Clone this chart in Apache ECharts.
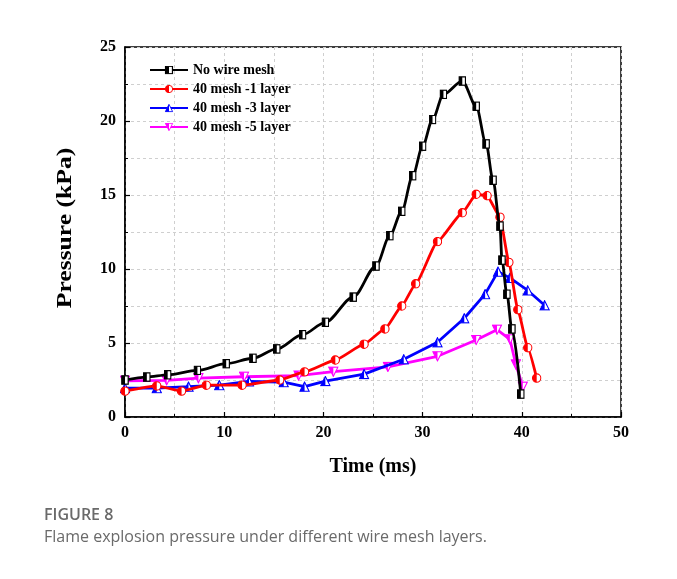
<!DOCTYPE html>
<html lang="en">
  <head>
    <meta charset="UTF-8" />
    <script src="https://cdn.jsdelivr.net/npm/echarts@6/dist/echarts.min.js"></script>
    <title>Figure 8</title>
    <style>
      html, body { margin: 0; padding: 0; background: #fff; }
      #app { width: 677px; height: 579px; }
    </style>
  </head>
  <body>
    <div id="app"></div>

    <script>
      // time (ms), pressure (kPa)
      const noMesh = [
        [0, 2.5], [2.2, 2.7], [4.3, 2.85], [7.3, 3.15], [10.2, 3.6], [12.9, 3.97],
        [15.3, 4.6], [17.9, 5.56], [20.2, 6.4], [23.0, 8.1], [25.3, 10.2], [26.7, 12.25],
        [27.9, 13.9], [29.0, 16.3], [30.0, 18.3], [31.0, 20.1], [32.1, 21.8], [34.0, 22.7],
        [35.4, 21.0], [36.4, 18.45], [37.1, 16.0], [37.8, 12.9], [38.0, 10.6], [38.5, 8.3],
        [39.0, 5.95], [39.9, 1.55],
      ];
      const mesh1 = [
        [0, 1.75], [3.2, 2.1], [5.7, 1.75], [8.2, 2.15], [11.8, 2.15], [15.6, 2.5],
        [18.1, 3.05], [21.2, 3.85], [24.1, 4.92], [26.2, 5.95], [27.9, 7.5], [29.3, 9.0],
        [31.5, 11.85], [34.0, 13.8], [35.4, 15.05], [36.5, 14.95], [37.8, 13.5], [38.7, 10.45],
        [39.6, 7.25], [40.6, 4.68], [41.5, 2.63],
      ];
      const mesh3 = [
        [0, 1.95], [3.2, 1.95], [6.4, 2.05], [9.5, 2.15], [12.5, 2.4], [16.0, 2.35],
        [18.1, 2.05], [20.2, 2.43], [24.1, 2.9], [28.1, 3.9], [31.5, 5.05], [34.2, 6.67],
        [36.3, 8.3], [37.6, 9.82], [38.8, 9.4], [40.6, 8.55], [42.3, 7.55],
      ];
      const mesh5 = [
        [0, 2.45], [4.2, 2.48], [7.4, 2.62], [12.0, 2.72], [17.5, 2.8], [21.0, 3.06],
        [26.5, 3.38], [31.5, 4.1], [35.4, 5.2], [37.5, 5.9], [38.8, 5.25], [39.4, 3.55],
        [40.1, 2.05],
      ];
      const names = ["No wire mesh", "40 mesh -1 layer", "40 mesh -3 layer", "40 mesh -5 layer"];
      const colors = ["#000000", "#ff0000", "#0000ff", "#ff00ff"];

      // half-filled markers like the origin plot
      function marker(kind, color) {
        let body = "";
        let vb = "0 0 12 12";
        if (kind === "square") {
          vb = "0 0 10 12";
          body = `<rect x="1" y="1" width="8" height="10" fill="white" stroke="${color}" stroke-width="1.5"/><rect x="1" y="1" width="4" height="10" fill="${color}"/>`;
        } else if (kind === "circle") {
          body = `<circle cx="6" cy="6" r="5" fill="white" stroke="${color}" stroke-width="1.3"/><path d="M6 1 A5 5 0 0 0 6 11 Z" fill="${color}"/>`;
        } else if (kind === "up") {
          body = `<path d="M6 1 L11 11 L1 11 Z" fill="white" stroke="${color}" stroke-width="1.2"/><path d="M6 1 L1 11 L6 11 Z" fill="${color}"/>`;
        } else {
          body = `<path d="M1 1 L11 1 L6 11 Z" fill="white" stroke="${color}" stroke-width="1.2"/><path d="M1 1 L6 1 L6 11 Z" fill="${color}"/>`;
        }
        const svg = `<svg xmlns="http://www.w3.org/2000/svg" viewBox="${vb}">${body}</svg>`;
        return "image://data:image/svg+xml;charset=utf-8," + encodeURIComponent(svg);
      }

      const serif = "Liberation Serif";
      const echart = echarts.init(document.getElementById("app"));

      function series(i, data, kind, size, smooth) {
        return {
          name: names[i],
          type: "line",
          data: data,
          smooth: smooth,
          smoothMonotone: "x",
          symbol: marker(kind, colors[i]),
          symbolSize: size,
          lineStyle: { color: colors[i], width: 2.8 },
          itemStyle: { color: colors[i] },
          z: 10 - i,
        };
      }

      echart.setOption({
        animation: false,
        backgroundColor: "#fff",
        grid: {
          left: 125,
          right: 56,
          top: 47,
          bottom: 162,
          show: true,
          borderColor: "#000",
          borderWidth: 1.5,
        },
        legend: {
          orient: "vertical",
          left: 144,
          top: 58,
          itemWidth: 38,
          itemHeight: 11,
          itemGap: 5,
          textStyle: { fontFamily: serif, fontWeight: "bold", fontSize: 14, color: "#000" },
          data: names,
        },
        xAxis: {
          type: "value",
          min: 0,
          max: 50,
          interval: 10,
          name: "Time (ms)",
          nameLocation: "middle",
          nameGap: 40,
          nameTextStyle: { fontFamily: serif, fontWeight: "bold", fontSize: 20, color: "#000" },
          axisLine: { lineStyle: { color: "#000", width: 1.5 } },
          axisTick: { inside: true, length: 5, lineStyle: { color: "#000", width: 1.2 } },
          minorTick: { show: true, splitNumber: 2, length: 3, lineStyle: { color: "#000" } },
          axisLabel: { fontFamily: serif, fontWeight: "bold", fontSize: 16, color: "#000", margin: 8 },
          splitLine: { show: true, lineStyle: { color: "#cfcfcf", type: [3, 3] } },
          minorSplitLine: { show: true, lineStyle: { color: "#cfcfcf", type: [3, 3] } },
        },
        yAxis: {
          type: "value",
          min: 0,
          max: 25,
          interval: 5,
          axisLine: { show: true, lineStyle: { color: "#000", width: 1.5 } },
          axisTick: { show: true, inside: true, length: 5, lineStyle: { color: "#000", width: 1.2 } },
          minorTick: { show: true, splitNumber: 2, length: 3, lineStyle: { color: "#000" } },
          axisLabel: { fontFamily: serif, fontWeight: "bold", fontSize: 16, color: "#000", margin: 9 },
          splitLine: { show: true, lineStyle: { color: "#cfcfcf", type: [3, 3] } },
          minorSplitLine: { show: true, lineStyle: { color: "#cfcfcf", type: [3, 3] } },
        },
        graphic: [
          {
            // y-axis title, stretched along its length like the source figure
            type: "text",
            x: 66,
            y: 228,
            rotation: Math.PI / 2,
            scaleX: 1.28,
            style: {
              text: "Pressure (kPa)",
              font: `bold 20px '${serif}'`,
              fill: "#000",
              align: "center",
              verticalAlign: "middle",
            },
          },
          {
            type: "text",
            left: 44,
            top: 507,
            style: { text: "FIGURE 8", font: "600 16px 'Open Sans'", fill: "#6a6a6a" },
          },
          {
            type: "text",
            left: 44,
            top: 529,
            style: {
              text: "Flame explosion pressure under different wire mesh layers.",
              font: "16px 'Open Sans'",
              fill: "#6a6a6a",
            },
          },
        ],
        series: [
          series(0, noMesh, "square", [8, 10], 0.3),
          series(1, mesh1, "circle", 10, 0.15),
          series(2, mesh3, "up", 11, false),
          series(3, mesh5, "down", 11, false),
        ],
      });
    </script>
  </body>
</html>
